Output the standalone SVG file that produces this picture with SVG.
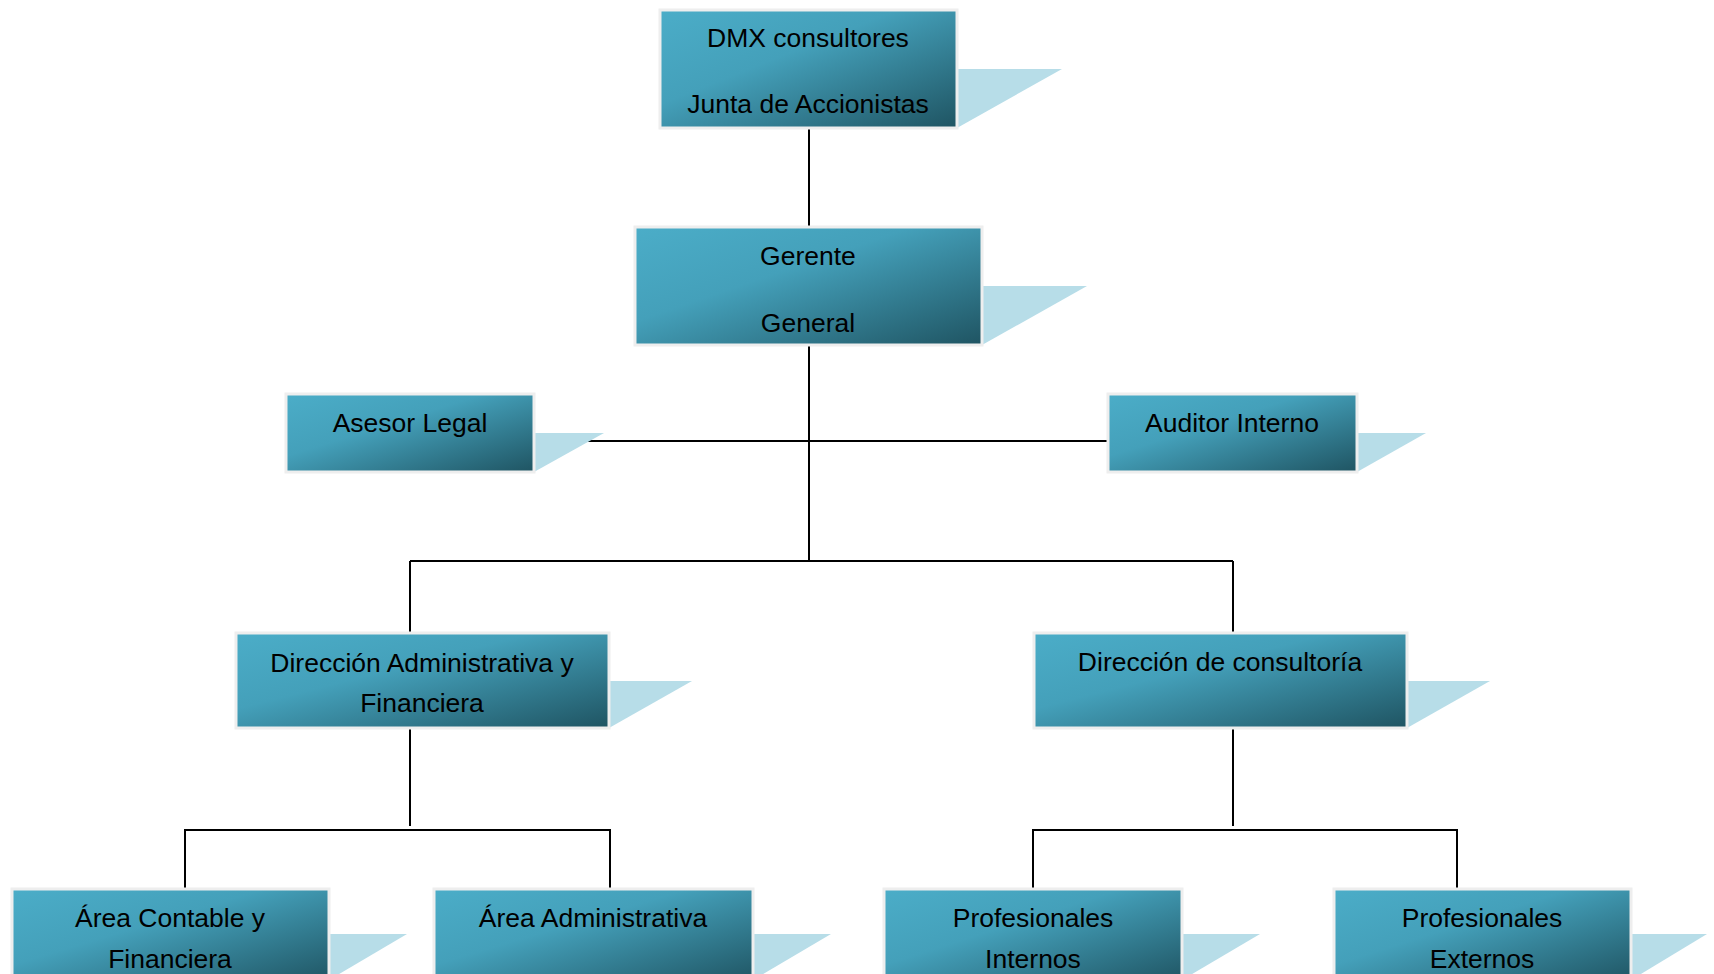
<svg xmlns="http://www.w3.org/2000/svg" width="1714" height="974" viewBox="0 0 1714 974">
<defs>
<linearGradient id="g" x1="0" y1="0" x2="1" y2="1">
<stop offset="0" stop-color="#4badc8"/>
<stop offset="0.4" stop-color="#44a0ba"/>
<stop offset="1" stop-color="#1f5462"/>
</linearGradient>
<style>
.box{fill:url(#g);stroke:#eeeeee;stroke-width:3}
.tri{fill:#b7dde8}
.t{font-family:"Liberation Sans",Arial,sans-serif;font-size:26.5px;fill:#000;text-anchor:middle}
.c{stroke:#000;stroke-width:2;fill:none}
</style>
</defs>
<rect width="1714" height="974" fill="#ffffff"/>
<g id="connectors">
<path class="c" d="M809 128V227"/>
<path class="c" d="M809 345V561"/>
<path class="c" d="M534 441H1108"/>
<path class="c" d="M410 561H1233"/>
<path class="c" d="M410 561V633"/>
<path class="c" d="M1233 561V633"/>
<path class="c" d="M410 728V826"/>
<path class="c" d="M185 889V830H610V889"/>
<path class="c" d="M1233 728V826"/>
<path class="c" d="M1033 889V830H1457V889"/>
</g>
<g id="n-junta">
<polygon class="tri" points="957,69 1062,69 957,128"/>
<rect class="box" x="660" y="10" width="297" height="118"/>
<text class="t" x="808" y="47">DMX consultores</text>
<text class="t" x="808" y="113">Junta de Accionistas</text>
</g>
<g id="n-gerente">
<polygon class="tri" points="982,286 1087,286 982,345"/>
<rect class="box" x="635" y="227" width="347" height="118"/>
<text class="t" x="808" y="265">Gerente</text>
<text class="t" x="808" y="332">General</text>
</g>
<g id="n-asesor">
<polygon class="tri" points="534,433 604,433 534,472"/>
<rect class="box" x="286" y="394" width="248" height="78"/>
<text class="t" x="410" y="432">Asesor Legal</text>
</g>
<g id="n-auditor">
<polygon class="tri" points="1357,433 1426,433 1357,472"/>
<rect class="box" x="1108" y="394" width="249" height="78"/>
<text class="t" x="1232" y="432">Auditor Interno</text>
</g>
<g id="n-dir-admin">
<polygon class="tri" points="609,681 692,681 609,728"/>
<rect class="box" x="236" y="633" width="373" height="95"/>
<text class="t" x="422" y="672">Dirección Administrativa y</text>
<text class="t" x="422" y="712">Financiera</text>
</g>
<g id="n-dir-consult">
<polygon class="tri" points="1407,681 1490,681 1407,728"/>
<rect class="box" x="1034" y="633" width="373" height="95"/>
<text class="t" x="1220" y="671">Dirección de consultoría</text>
</g>
<g id="n-contable">
<polygon class="tri" points="329,934 407,934 329,980"/>
<rect class="box" x="12" y="889" width="317" height="95"/>
<text class="t" x="170" y="927">Área Contable y</text>
<text class="t" x="170" y="968">Financiera</text>
</g>
<g id="n-area-admin">
<polygon class="tri" points="753,934 831,934 753,980"/>
<rect class="box" x="434" y="889" width="319" height="95"/>
<text class="t" x="593" y="927">Área Administrativa</text>
</g>
<g id="n-internos">
<polygon class="tri" points="1182,934 1260,934 1182,980"/>
<rect class="box" x="884" y="889" width="298" height="95"/>
<text class="t" x="1033" y="927">Profesionales</text>
<text class="t" x="1033" y="968">Internos</text>
</g>
<g id="n-externos">
<polygon class="tri" points="1631,934 1707,934 1631,980"/>
<rect class="box" x="1334" y="889" width="297" height="95"/>
<text class="t" x="1482" y="927">Profesionales</text>
<text class="t" x="1482" y="968">Externos</text>
</g>
</svg>
